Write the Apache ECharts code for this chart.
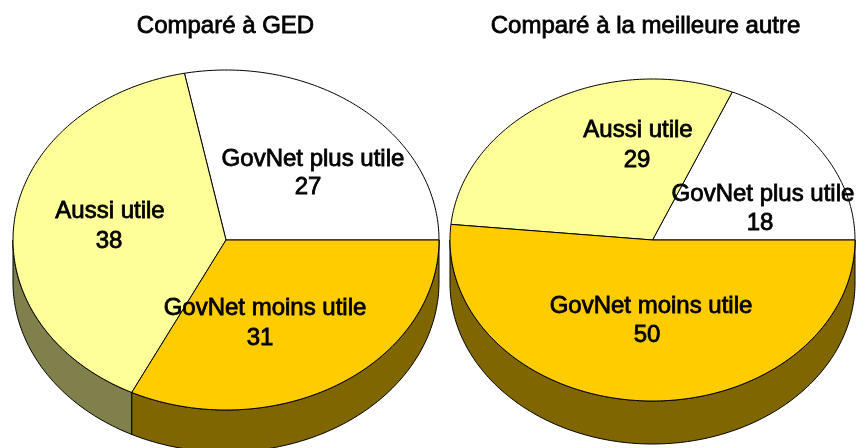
<!DOCTYPE html>
<html>
<head>
<meta charset="utf-8">
<style>
  html, body { margin: 0; padding: 0; background: #fff; }
  #chart { width: 859px; height: 448px; }
</style>
<script src="https://cdn.jsdelivr.net/npm/echarts@6/dist/echarts.min.js"></script>
</head>
<body>
<div id="chart"></div>
<script>
// slice order runs counter-clockwise from 3 o'clock
var categories = ["GovNet plus utile", "Aussi utile", "GovNet moins utile"];
var gedValues = [27, 38, 31];
var autreValues = [18, 29, 50];
var titles = ["Comparé à GED", "Comparé à la meilleure autre"];

var topColors = ["#ffffff", "#ffff99", "#ffcc00"];
var sideColors = ["#808080", "#80804d", "#806600"];

var pies = [
  {
    values: gedValues, cx: 226, cy: 240, rx: 213, ry: 170, depth: 42,
    // [name x, name y, value x, value y]
    labels: [[313, 159, 308, 187], [110, 211, 109, 241], [265, 308, 260, 338]]
  },
  {
    values: autreValues, cx: 652.5, cy: 240, rx: 202.5, ry: 161, depth: 43,
    labels: [[763, 194, 760, 223], [638, 130, 637, 160], [651, 306, 647, 335]]
  }
];

function sum(arr) {
  return arr.reduce(function (a, b) { return a + b; }, 0);
}

function arcPoints(pie, from, to, dy) {
  var pts = [];
  var n = Math.max(2, Math.ceil((to - from) / 1));
  for (var i = 0; i <= n; i++) {
    var t = (from + (to - from) * i / n) * Math.PI / 180;
    pts.push([pie.cx + pie.rx * Math.cos(t), pie.cy - pie.ry * Math.sin(t) + dy]);
  }
  return pts;
}

// rows are [value, sum of the values before it, total]
function rows(values) {
  var total = sum(values), acc = 0;
  return values.map(function (v) {
    var row = [v, acc, total];
    acc += v;
    return row;
  });
}

function angles(api) {
  var k = 360 / api.value(2);
  return [api.value(1) * k, (api.value(1) + api.value(0)) * k];
}

function lineStyle(color) {
  return { fill: color, stroke: "#000", lineWidth: 1, lineJoin: "round" };
}

function sideSeries(pie) {
  return {
    type: "custom",
    coordinateSystem: "none",
    silent: true,
    z: 1,
    data: rows(pie.values),
    renderItem: function (params, api) {
      var a = angles(api);
      // only the front half of the disc shows a wall
      var from = Math.max(a[0], 180), to = Math.min(a[1], 360);
      if (to <= from) return { type: "group", children: [] };
      var pts = arcPoints(pie, from, to, 0).concat(arcPoints(pie, from, to, pie.depth).reverse());
      return {
        type: "polygon",
        shape: { points: pts },
        style: lineStyle(sideColors[params.dataIndex])
      };
    }
  };
}

function topSeries(pie) {
  return {
    type: "custom",
    coordinateSystem: "none",
    silent: true,
    z: 2,
    data: rows(pie.values),
    renderItem: function (params, api) {
      var a = angles(api);
      var pts = [[pie.cx, pie.cy]].concat(arcPoints(pie, a[0], a[1], 0));
      return {
        type: "polygon",
        shape: { points: pts },
        style: lineStyle(topColors[params.dataIndex])
      };
    }
  };
}

function textEl(str, x, y) {
  return {
    type: "text",
    style: {
      text: str, x: x, y: y,
      font: "24px 'Liberation Sans', Arial, sans-serif",
      fill: "#000", stroke: "#000", lineWidth: 0.8,
      align: "center", verticalAlign: "middle"
    }
  };
}

function labelSeries(pie) {
  return {
    type: "custom",
    coordinateSystem: "none",
    silent: true,
    z: 3,
    data: pie.values.map(function (v) { return [v]; }),
    renderItem: function (params, api) {
      var p = pie.labels[params.dataIndex];
      return {
        type: "group",
        children: [
          textEl(categories[params.dataIndex], p[0], p[1]),
          textEl(String(api.value(0)), p[2], p[3])
        ]
      };
    }
  };
}

var series = [];
pies.forEach(function (pie) {
  series.push(sideSeries(pie), topSeries(pie), labelSeries(pie));
});

var titleStyle = {
  fontFamily: "Liberation Sans", fontSize: 24, fontWeight: "normal",
  color: "#000", textBorderColor: "#000", textBorderWidth: 0.8
};

var myChart = echarts.init(document.getElementById("chart"), null, { renderer: "canvas" });
myChart.setOption({
  animation: false,
  backgroundColor: "#fff",
  title: [
    { text: titles[0], left: 220.5, top: 9, textAlign: "center", textStyle: titleStyle },
    { text: titles[1], left: 640.5, top: 9, textAlign: "center", textStyle: titleStyle }
  ],
  series: series
});
</script>
</body>
</html>
